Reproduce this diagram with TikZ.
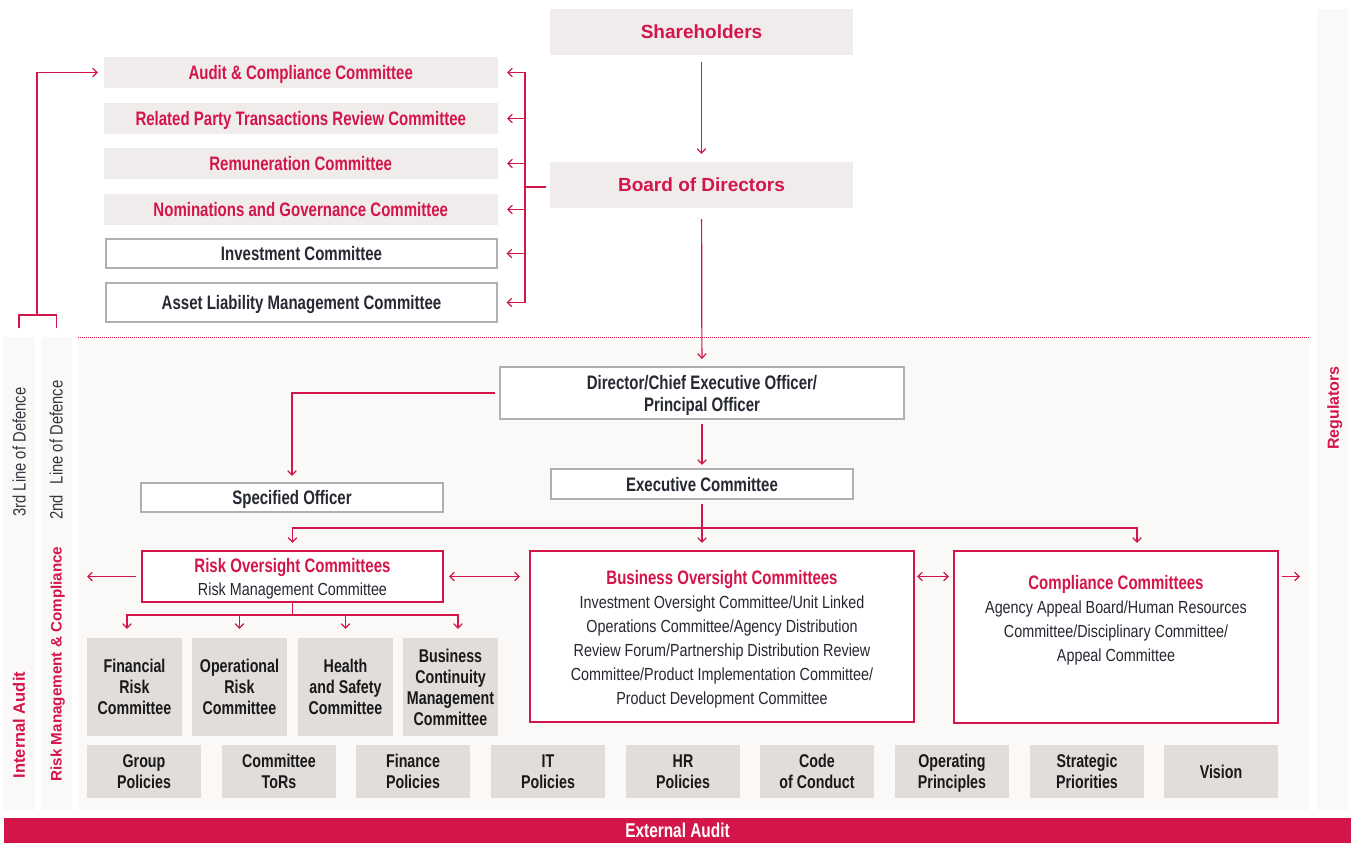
\documentclass[tikz,border=0pt]{standalone}
\usepackage{fontspec}
\setmainfont{Liberation Sans}[UprightFeatures={FakeStretch=0.82}, BoldFeatures={FakeStretch=0.77}]
\newfontfamily\widefont{Liberation Sans}
\usetikzlibrary{arrows.meta}
\definecolor{crimson}{RGB}{212,21,74}
\definecolor{darktext}{RGB}{38,40,50}
\definecolor{topfill}{RGB}{240,236,236}
\definecolor{grayfill}{RGB}{225,221,219}
\definecolor{bgfill}{RGB}{250,249,248}
\definecolor{boxgray}{RGB}{175,175,180}
\definecolor{coltext}{RGB}{55,55,65}
\tikzset{
 base/.style={inner sep=0pt, outer sep=0pt, align=center, text depth=0pt},
 topbox/.style={base, fill=topfill, text=crimson, font={\fontsize{19.5}{21}\selectfont\bfseries}},
 widebox/.style={base, fill=topfill, text=crimson, font={\widefont\fontsize{19}{22}\selectfont\bfseries}, minimum width=303pt, minimum height=46pt},
 wbox/.style={base, fill=white, draw=boxgray, line width=1.3pt, text=darktext, font={\fontsize{19.5}{22}\selectfont\bfseries}},
 rbox/.style={base, fill=white, draw=crimson, line width=1.3pt},
 gbox/.style={base, fill=grayfill, text=black!90, font={\fontsize{18.5}{21}\selectfont\bfseries}, minimum width=95pt, minimum height=98pt},
 pbox/.style={base, fill=grayfill, text=black!90, font={\fontsize{18.5}{20.5}\selectfont\bfseries}, minimum width=114pt, minimum height=53pt},
 band/.style={base, fill=bgfill},
 vlabel/.style={base, rotate=90, text=coltext, font={\fontsize{18}{20}\selectfont}},
 vbold/.style={base, rotate=90, text=crimson, font={\widefont\fontsize{16}{18}\selectfont\bfseries}},
 boxtext/.style={base, text=darktext, font={\fontsize{17.5}{24}\selectfont}},
 link/.style={draw=crimson, line width=1.2pt},
 arr/.style={link, -{Straight Barb[length=4.5pt,width=8.5pt]}},
 darr/.style={link, {Straight Barb[length=4.5pt,width=8.5pt]}-{Straight Barb[length=4.5pt,width=8.5pt]}},
}
\newcommand{\ttl}[1]{{\fontsize{19.5}{24}\selectfont\bfseries\color{crimson}#1}}
\begin{document}
\begin{tikzpicture}[x=1pt,y=-1pt]
\useasboundingbox (0,0) rectangle (1355,843);
% background bands
\node[band, minimum width=1231pt, minimum height=473pt] (main) at (693.5,573.5) {};
\node[band, minimum width=32pt, minimum height=473pt] (col3) at (19,573.5) {};
\node[band, minimum width=31pt, minimum height=473pt] (col2) at (56.5,573.5) {};
\node[band, minimum width=31pt, minimum height=801pt] (reg) at (1332.5,409.5) {};
\node[base, fill=crimson, minimum width=1347pt, minimum height=25pt, text=white, font={\fontsize{20}{22}\selectfont\bfseries}] (ext) at (677.5,830.5) {External Audit};
\draw[crimson, line width=1pt, dash pattern=on 1pt off 1pt] (main.north west) -- (main.north east);
% vertical labels
\node[vlabel] (t3) at (19,452) {3rd Line of Defence};
\node[vlabel] (t2) at (56,450) {2nd\hspace{0.6em}Line of Defence};
\node[vbold, font={\widefont\fontsize{16.5}{18}\selectfont\bfseries}] (ia) at (19,725) {Internal Audit};
\node[vbold, font={\widefont\fontsize{15.2}{18}\selectfont\bfseries}] (rmc) at (56,664) {Risk Management \& Compliance};
\node[vbold] (regt) at (1333,408) {Regulators};
% top
\node[widebox] (sh) at (701.5,32) {Shareholders};
\node[widebox] (bod) at (701.5,185) {Board of Directors};
% board committees
\node[topbox, minimum width=393.5pt, minimum height=31pt] (audit) at (300.75,72.5) {Audit \& Compliance Committee};
\node[topbox, minimum width=393.5pt, minimum height=31pt] (rpt) at (300.75,118.5) {Related Party Transactions Review Committee};
\node[topbox, minimum width=393.5pt, minimum height=31pt] (rem) at (300.75,163.5) {Remuneration Committee};
\node[topbox, minimum width=393.5pt, minimum height=31pt] (nom) at (300.75,209.5) {Nominations and Governance Committee};
\node[wbox, minimum width=391pt, minimum height=29pt] (inv) at (301.5,253.5) {Investment Committee};
\node[wbox, minimum width=391pt, minimum height=39pt] (alm) at (301.5,302.5) {Asset Liability Management Committee};
% management
\node[wbox, minimum width=404pt, minimum height=52pt] (ceo) at (702,393) {Director/Chief Executive Officer/\\Principal Officer};
\node[wbox, minimum width=302pt, minimum height=29pt] (spec) at (292,497.5) {Specified Officer};
\node[wbox, minimum width=302pt, minimum height=30pt] (exec) at (702,484) {Executive Committee};
% oversight committees
\node[rbox, minimum width=301pt, minimum height=51pt, text=darktext, font={\fontsize{17.5}{23}\selectfont}] (risk) at (292.5,576.5) {\ttl{Risk Oversight Committees}\\Risk Management Committee};
\node[rbox, minimum width=384pt, minimum height=171pt] (bus) at (722,636.5) {};
\node[boxtext] (bust) at (722,637.5) {\ttl{Business Oversight Committees}\\Investment Oversight Committee/Unit Linked\\Operations Committee/Agency Distribution\\Review Forum/Partnership Distribution Review\\Committee/Product Implementation Committee/\\Product Development Committee};
\node[rbox, minimum width=324pt, minimum height=172pt] (comp) at (1116,637) {};
\node[boxtext] (compt) at (1116,618.5) {\ttl{Compliance Committees}\\Agency Appeal Board/Human Resources\\Committee/Disciplinary Committee/\\Appeal Committee};
% risk sub committees
\node[gbox] (fr) at (134.5,687) {Financial\\Risk\\Committee};
\node[gbox] (or) at (239.5,687) {Operational\\Risk\\Committee};
\node[gbox] (hs) at (345.5,687) {Health\\and Safety\\Committee};
\node[gbox] (bc) at (450.5,687) {Business\\Continuity\\Management\\Committee};
% policies
\node[pbox] (p1) at (144,771.5) {Group\\Policies};
\node[pbox] (p2) at (279,771.5) {Committee\\ToRs};
\node[pbox] (p3) at (413,771.5) {Finance\\Policies};
\node[pbox] (p4) at (548,771.5) {IT\\Policies};
\node[pbox] (p5) at (683,771.5) {HR\\Policies};
\node[pbox] (p6) at (817,771.5) {Code\\of Conduct};
\node[pbox] (p7) at (952,771.5) {Operating\\Principles};
\node[pbox] (p8) at (1087,771.5) {Strategic\\Priorities};
\node[pbox] (p9) at (1221,771.5) {Vision};
% connectors
\draw[arr, shorten <=7pt, shorten >=8pt] (sh) -- (bod);
\draw[arr, shorten <=11pt, shorten >=8pt] (bod) -- (ceo);
\draw[arr, shorten <=5pt, shorten >=7pt] (ceo.west) -| (spec.north);
\draw[arr, shorten <=5pt, shorten >=4pt] (ceo) -- (exec);
\coordinate (eb) at (702,528);
\coordinate (cb) at (1137,528);
\draw[link, shorten <=5pt] (exec.south) -- (eb);
\draw[arr, shorten >=8pt] (eb) -| (risk.north);
\draw[arr, shorten >=8pt] (eb) -- (eb |- bus.north);
\draw[arr, shorten >=8pt] (eb) -| (cb |- comp.north);
% board committee bracket
\coordinate (cbk) at (525,187);
\draw[link, shorten <=4pt] (bod.west |- cbk) -- (cbk);
\draw[arr, shorten >=9.5pt] (cbk) |- (audit.east);
\draw[arr, shorten >=9.5pt] (cbk |- rpt) -- (rpt.east);
\draw[arr, shorten >=9.5pt] (cbk |- rem) -- (rem.east);
\draw[arr, shorten >=9.5pt] (cbk |- nom) -- (nom.east);
\draw[arr, shorten >=9.5pt] (cbk |- inv) -- (inv.east);
\draw[arr, shorten >=9.5pt] (cbk) |- (alm.east);
% lines of defence bracket
\coordinate (lb) at (37,315);
\draw[link, shorten <=9pt] (col3.north) |- (lb);
\draw[link, shorten <=9pt] (col2.north) |- (lb);
\draw[arr, shorten >=6pt] (lb) |- (audit.west);
% side arrows
\coordinate (rl) at (87,576.5);
\coordinate (rr) at (1300,576.5);
\draw[arr, shorten <=6pt] (risk.west) -- (rl);
\draw[darr, shorten <=6pt, shorten >=10pt] (risk.east) -- (risk.east -| bus.west);
\draw[darr, shorten <=3pt, shorten >=5pt] (risk.east -| bus.east) -- (risk.east -| comp.west);
\draw[arr, shorten <=4pt] (risk.east -| comp.east) -- (rr);
% risk branch
\coordinate (rb) at (292.5,615);
\coordinate (rb1) at (127,615);
\coordinate (rb4) at (458,615);
\draw[link] (risk.south) -- (rb);
\draw[arr, shorten >=9pt] (rb) -| (rb1 |- fr.north);
\draw[arr, shorten >=9pt] (rb) -| (rb4 |- bc.north);
\draw[arr, shorten >=9pt] (rb -| or.north) -- (or.north);
\draw[arr, shorten >=9pt] (rb -| hs.north) -- (hs.north);
\end{tikzpicture}
\end{document}
